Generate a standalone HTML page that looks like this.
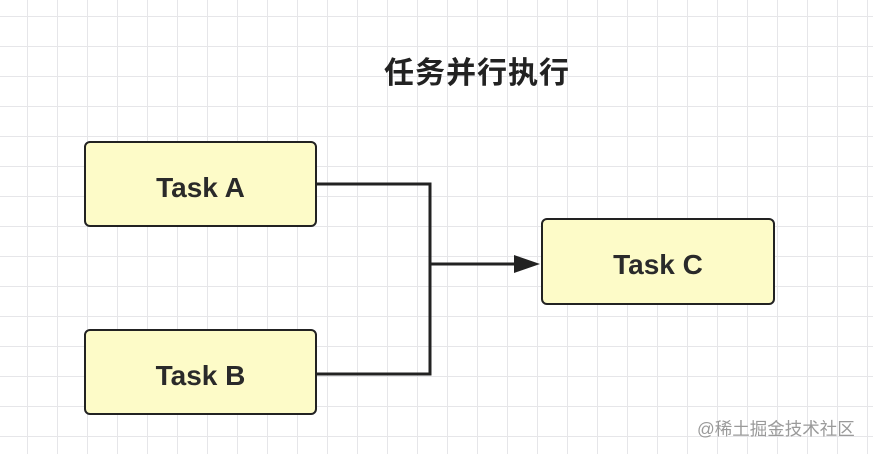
<!DOCTYPE html>
<html><head><meta charset="utf-8"><style>
body{margin:0;width:873px;height:454px;overflow:hidden;background:#fff;
background-image:linear-gradient(#e6e6e9 1px,transparent 1px),linear-gradient(90deg,#e6e6e9 1px,transparent 1px);
background-size:30px 30px;background-position:27px 16px;font-family:"Liberation Sans","Noto Sans CJK SC",sans-serif;position:relative}
.b{position:absolute;background:#fdfbc8;border:2.5px solid #222;border-radius:6px;display:flex;align-items:center;justify-content:center;font-weight:bold;font-size:28px;color:#2a2a2a;box-sizing:border-box;padding-top:7px}
</style></head><body>
<div style="position:absolute;left:384px;top:48px;font-size:30px;font-weight:bold;color:#222;letter-spacing:1px">任务并行执行</div>
<div class="b" style="left:84px;top:141px;width:233px;height:86px">Task A</div>
<div class="b" style="left:84px;top:329px;width:233px;height:86px">Task B</div>
<div class="b" style="left:541px;top:218px;width:234px;height:87px">Task C</div>
<svg width="873" height="454" style="position:absolute;left:0;top:0">
<path d="M317 184H430V374H317M430 264H516" fill="none" stroke="#222" stroke-width="3"/>
<polygon points="514,255 540,264 514,273" fill="#222"/>
</svg>
<div style="position:absolute;left:697px;top:416px;font-size:17.5px;color:#9a9a9a">@稀土掘金技术社区</div>
</body></html>
